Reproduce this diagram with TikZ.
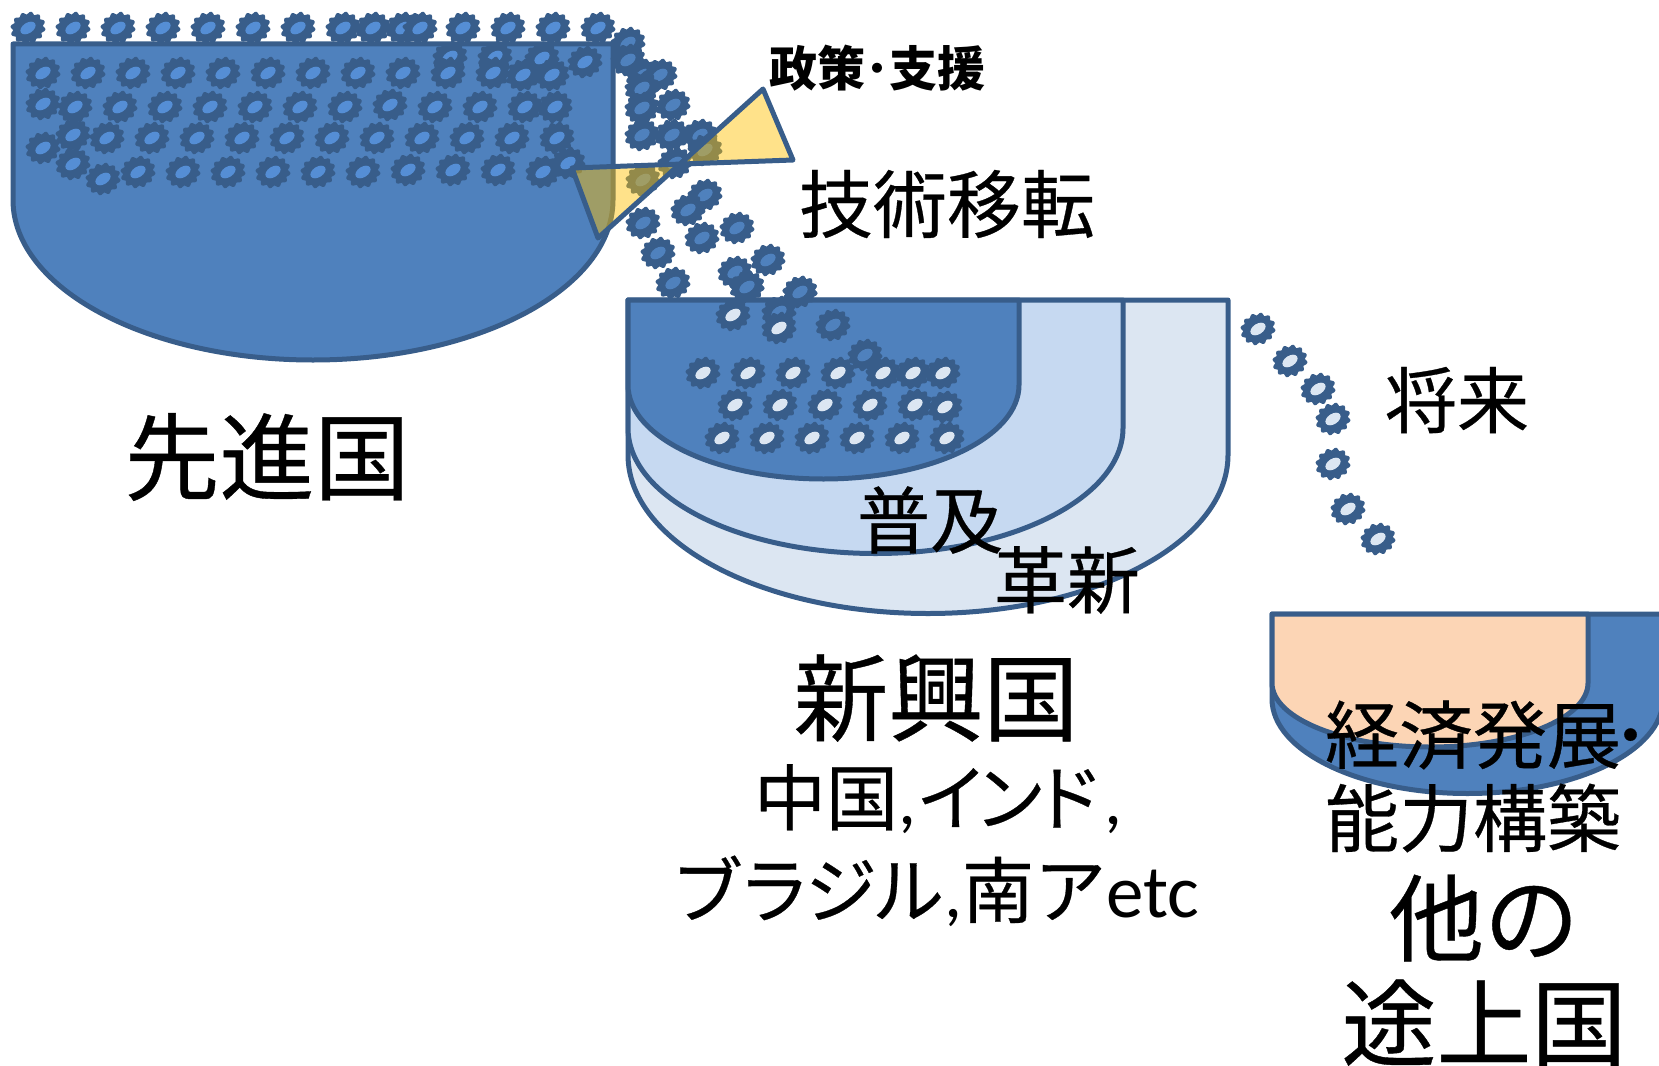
\documentclass[tikz,border=0pt]{standalone}
\usepackage{fontspec}
\setmainfont{Noto Sans CJK JP}[UprightFeatures={FakeBold=0.4}]
\newfontfamily\latinfont{Carlito}
\definecolor{rim}{HTML}{385D8A}
\definecolor{bowlblue}{HTML}{4F81BD}
\definecolor{midblue}{HTML}{C6D9F1}
\definecolor{paleblue}{HTML}{DCE6F2}
\definecolor{peach}{HTML}{FCD5B5}
\definecolor{seedblue}{HTML}{558ED5}
\definecolor{funnel}{HTML}{FFC000}
\tikzset{
  bowl/.style={draw=rim,line width=5pt,line join=round},
  label/.style={inner sep=0pt,outer sep=0pt,text=black,align=center},
  funnelshape/.style={draw=rim,line width=5pt,line join=round},
  seed/.pic={
    \begin{scope}[rotate=22,yscale=0.88]
      \fill[rim,draw=rim,line width=4pt,line join=round]
        (0:16)--(15:12.5)--(30:16)--(45:12.5)--(60:16)--(75:12.5)--(90:16)--(105:12.5)
        --(120:16)--(135:12.5)--(150:16)--(165:12.5)--(180:16)--(195:12.5)--(210:16)--(225:12.5)
        --(240:16)--(255:12.5)--(270:16)--(285:12.5)--(300:16)--(315:12.5)--(330:16)--(345:12.5)--cycle;
    \end{scope}
    \fill[fill=\pgfkeysvalueof{/tikz/seedcore}] (0,0) ellipse [x radius=8.4pt,y radius=5.2pt,rotate=33];
  },
  seedcore/.initial=seedblue
}
% scatter a list of seeds with the given core colour
\newcommand{\seeds}[2]{\foreach \sx/\sy in {#2}{\pic[seedcore=#1] at (\sx,\sy) {seed};}}
\begin{document}
\begin{tikzpicture}[x=1pt,y=-1pt]
\useasboundingbox (0,0) rectangle (1659,1065);
\clip (0,0) rectangle (1659,1065);

% developed-country bowl
\filldraw[bowl,fill=bowlblue] (13,44) -- (613,44) -- (613,200)
  arc[start angle=0,end angle=180,x radius=300pt,y radius=-160pt] -- cycle;

% seeds lined up on and inside the first bowl
\seeds{seedblue}{28/28,73/28,118/28,163/28,208/28,253/28,298/28,343/28,373/28,403/28,420/28,463/28,508/28,553/28,598/28}
\seeds{seedblue}{450/57,495/57,542/58,585/62,
  43/73,88/73,133/73,178/73,223/73,268/73,313/73,358/73,403/73,448/73,493/73,523/75,552/75,
  43/104,75/107,120/107,165/107,210/107,255/107,300/107,345/107,390/105,435/107,480/107,525/107,555/107,
  73/135,107/138,152/138,197/138,242/138,287/138,332/138,377/138,422/138,467/138,512/138,557/138,
  43/148,73/164,103/179,138/172,183/172,228/172,273/172,318/172,363/172,408/170,453/170,498/170,543/172,568/163}

% seeds falling toward the second bowl
\seeds{bowlblue}{628/43,628/60,643/75,660/75,642/88,642/108,673/105,642/135,672/135,700/135,705/150,675/163,643/180,
  705/195,688/210,643/223,702/238,737/228,658/253,735/272,768/260,747/287,673/283,800/292}

% policy and support funnel
\filldraw[funnelshape,fill=funnel,fill opacity=0.46] (763,89) -- (793,160) -- (572,168) -- (598,238) -- cycle;

% emerging-country nested bowls
\filldraw[bowl,fill=paleblue] (628,300) -- (1228,300) -- (1228,455)
  arc[start angle=0,end angle=180,x radius=300pt,y radius=-158.5pt] -- cycle;
\filldraw[bowl,fill=midblue] (628,300) -- (1123,300) -- (1123,428)
  arc[start angle=0,end angle=180,x radius=247.5pt,y radius=-125.5pt] -- cycle;
\filldraw[bowl,fill=bowlblue] (628,300) -- (1019,300) -- (1019,385)
  arc[start angle=0,end angle=180,x radius=195.5pt,y radius=-94pt] -- cycle;

% seeds that landed in the second bowl
\seeds{bowlblue}{747/287,800/292,779/312,833/325,865/355}
\seeds{paleblue}{733/315,779/328,
  703/373,748/373,793/373,838/373,883/373,913/373,943/373,
  735/405,780/405,825/405,870/405,915/405,945/407,
  722/438,767/438,812/438,857/438,902/438,947/438}

% seeds heading to the third bowl
\seeds{paleblue}{1258/329,1290/361,1318/389,1333/419,1333/464,1348/509,1378/539}

% other developing-country bowl
\filldraw[bowl,fill=bowlblue] (1272,614) -- (1663,614) -- (1663,699)
  arc[start angle=0,end angle=180,x radius=195.5pt,y radius=-94.5pt] -- cycle;
\filldraw[bowl,fill=peach] (1272,614) -- (1588,614) -- (1588,683)
  arc[start angle=0,end angle=180,x radius=158pt,y radius=-64pt] -- cycle;

% captions
\node[label,font=\bfseries\fontsize{48}{48}\selectfont] (policy) at (877,68) {政策･支援};
\node[label,font=\fontsize{74}{74}\selectfont] (transfer) at (947,204) {技術移転};
\node[label,font=\fontsize{95}{95}\selectfont] (developed) at (267,457) {先進国};
\node[label,font=\fontsize{73}{73}\selectfont] (spread) at (930,520) {普及};
\node[label,font=\fontsize{73}{73}\selectfont] (innovate) at (1067,580) {革新};
\node[label,font=\fontsize{95}{95}\selectfont] (emerging) at (936,698) {新興国};
\node[label,font=\fontsize{72}{72}\selectfont] (members) at (938,799) {中国{\latinfont ,}イ\kern-14pt ン\kern-14pt ド{\latinfont ,}};
\node[label,font=\fontsize{72}{72}\selectfont] (moremembers) at (935,891) {ブ\kern-5pt ラ\kern-5pt ジ\kern-5pt ル{\latinfont ,}南ア{\latinfont\fontsize{75}{75}\selectfont etc}};
\node[label,font=\fontsize{72}{72}\selectfont] (future) at (1457,400) {将来};
\node[label,font=\fontsize{74}{74}\selectfont,anchor=west] (growth) at (1325,735) {経済発展\kern-9pt ･};
\node[label,font=\fontsize{74}{74}\selectfont] (capacity) at (1473,818) {能力構築};
\node[label,font=\fontsize{95}{95}\selectfont] (other) at (1484,918) {他の};
\node[label,font=\fontsize{95}{95}\selectfont] (developing) at (1484,1023) {途上国};
\end{tikzpicture}
\end{document}
